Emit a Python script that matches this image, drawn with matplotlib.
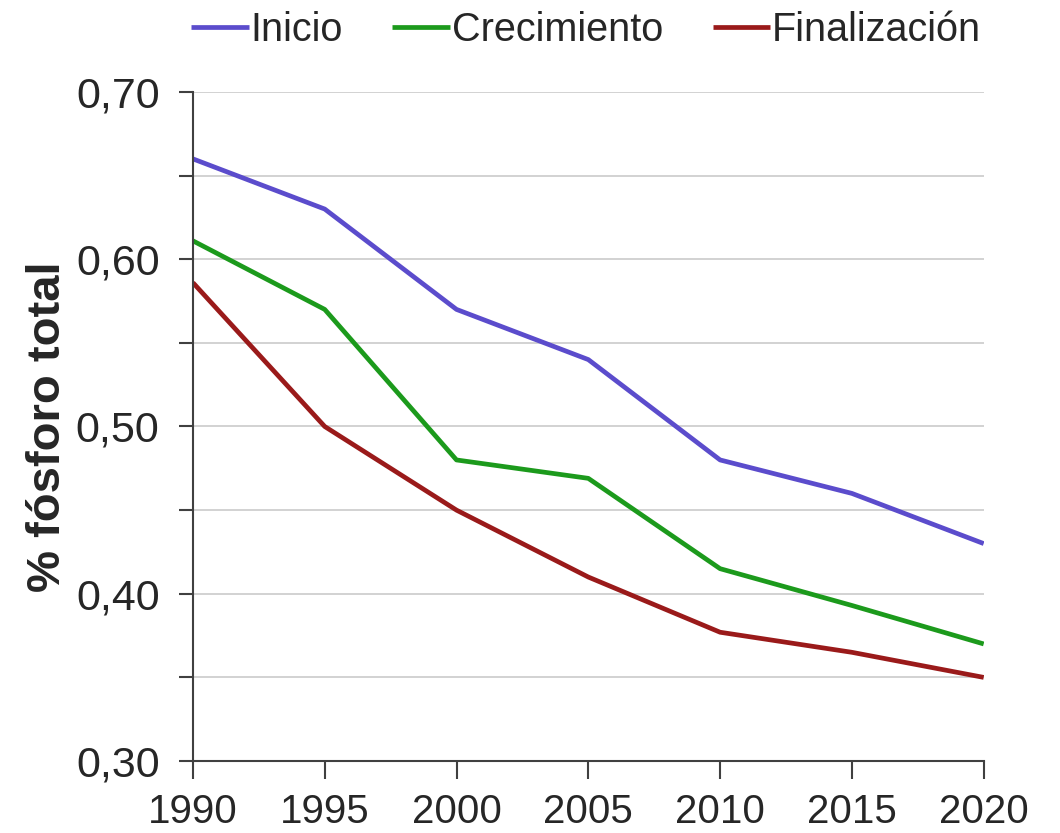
import matplotlib
matplotlib.use("Agg")
import matplotlib.pyplot as plt
from matplotlib.ticker import MultipleLocator, FuncFormatter

# Data
years = [1990, 1995, 2000, 2005, 2010, 2015, 2020]
inicio = [0.660, 0.630, 0.570, 0.540, 0.480, 0.460, 0.430]
crecimiento = [0.611, 0.570, 0.480, 0.469, 0.415, 0.393, 0.370]
finalizacion = [0.586, 0.500, 0.450, 0.410, 0.377, 0.365, 0.350]

series_names = ["Inicio", "Crecimiento", "Finalización"]
series_colors = ["#5b4ccc", "#1c9a1c", "#9a1a1a"]

plt.rcParams['font.family'] = ['Liberation Sans', 'DejaVu Sans']

fig = plt.figure(figsize=(10.6, 8.33), dpi=100)
ax = fig.add_axes([0.182, 0.0864, 0.746, 0.8032])

for vals, name, col in zip([inicio, crecimiento, finalizacion], series_names, series_colors):
    ax.plot(years, vals, color=col, lw=3.4, label=name, solid_capstyle='butt')

ax.set_xlim(1990, 2020)
ax.set_ylim(0.30, 0.70)
ax.set_xticks(years)
ax.yaxis.set_major_locator(MultipleLocator(0.10))
ax.yaxis.set_minor_locator(MultipleLocator(0.05))
ax.yaxis.set_major_formatter(FuncFormatter(lambda v, p: f"{v:.2f}".replace(".", ",")))

# gridlines at every 0.05 except the bottom axis
for y in [0.35, 0.40, 0.45, 0.50, 0.55, 0.60, 0.65, 0.70]:
    ax.axhline(y, color="#cfcfcf", lw=1.3, zorder=0)

for s in ['top', 'right']:
    ax.spines[s].set_visible(False)
for s in ['left', 'bottom']:
    ax.spines[s].set_color("#404040")
    ax.spines[s].set_linewidth(1.5)
    ax.spines[s].set_zorder(3)

ax.tick_params(axis='y', which='both', length=10, width=1.5, color="#404040",
               labelsize=31, labelcolor="#262626", pad=14)
ax.tick_params(axis='x', length=13, width=1.5, color="#404040",
               labelsize=29, labelcolor="#262626", pad=10)
ax.tick_params(axis='y', which='minor', labelleft=False)

ax.set_ylabel("% fósforo total", fontsize=34, fontweight='bold', color="#262626", labelpad=4)

leg = fig.legend(loc='upper center', bbox_to_anchor=(0.553, 1.03), ncol=3, frameon=False,
                 handlelength=1.45, handletextpad=0.05, columnspacing=1.25,
                 prop={'size': 28.5})
for t in leg.get_texts():
    t.set_color("#262626")

fig.savefig("out.png", dpi=100)
